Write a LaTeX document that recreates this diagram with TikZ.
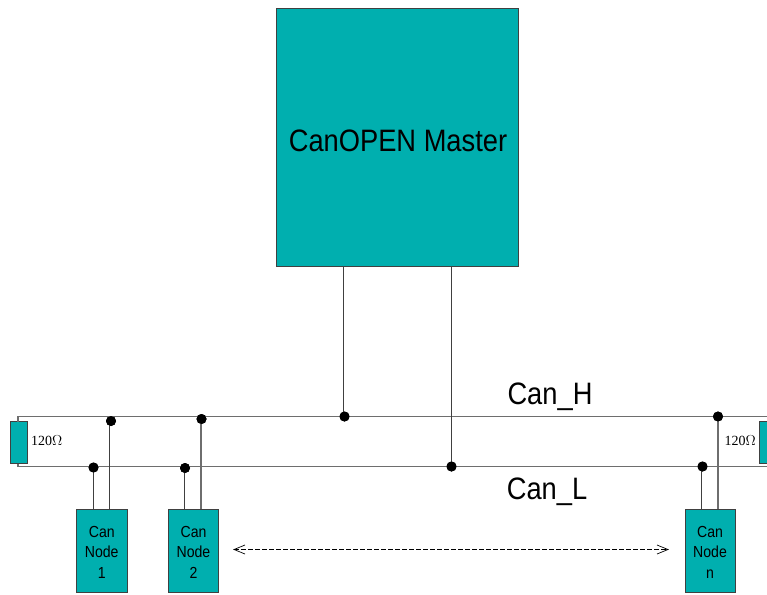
\documentclass[tikz,border=0pt]{standalone}
\usepackage{fontspec}
\setmainfont[FakeStretch=0.88]{Liberation Sans}
\newfontfamily\serifface{Liberation Serif}
\definecolor{tealbox}{RGB}{0,175,175}
\definecolor{wiregray}{RGB}{110,110,110}
\tikzset{
  x=1pt,y=-1pt,
  boxstyle/.style={draw=black!75,line width=0.9pt,fill=tealbox,inner sep=0pt,outer sep=0pt,anchor=north west,align=center},
  wire/.style={draw=wiregray,line width=1.1pt},
  stub/.style={draw=black!75,line width=1pt},
  junction/.style={circle,fill=black,inner sep=0pt,minimum size=10pt,outer sep=0pt},
  nodetext/.style={font=\fontsize{16}{20.5}\selectfont},
  buslabel/.style={font=\fontsize{31}{32}\selectfont,inner sep=0pt},
  ohm/.style={font=\serifface\fontsize{14}{14}\selectfont,inner sep=0pt}
}
\begin{document}
\begin{tikzpicture}
\useasboundingbox (0,0) rectangle (767,594);
% boxes
\node[boxstyle,minimum width=241.5pt,minimum height=258pt] (master) at (276.7,8.8) {};
\node[font=\fontsize{31}{32}\selectfont,inner sep=0pt] (mastertext) at (398,140.5) {CanOPEN Master};
\node[boxstyle,nodetext,minimum width=50.5pt,minimum height=83pt] (n1) at (76.5,509) {\rule{0pt}{14pt}Can\\Node\\1};
\node[boxstyle,nodetext,minimum width=50pt,minimum height=83pt] (n2) at (168.5,509) {\rule{0pt}{14pt}Can\\Node\\2};
\node[boxstyle,nodetext,minimum width=50pt,minimum height=83pt] (nn) at (685,509) {\rule{0pt}{14pt}Can\\Node\\n};
\node[boxstyle,minimum width=17pt,minimum height=42pt] (rl) at (10,421.5) {};
\node[boxstyle,minimum width=17pt,minimum height=42pt] (rr) at (759,421.5) {};
% bus coordinates
\coordinate (hl) at (18,416.5);
\coordinate (hr) at (767,416.5);
\coordinate (ll) at (18,466.5);
\coordinate (lr) at (767,466.5);
\coordinate (rlt) at (18,421.5);
\coordinate (rlb) at (18,463.5);
% junctions
\node[junction] (jm1) at (344.5,416.5) {};
\node[junction] (jm2) at (451.5,466.5) {};
\node[junction] (j1h) at (111,421) {};
\node[junction] (j1l) at (93.5,467.5) {};
\node[junction] (j2h) at (201.5,419) {};
\node[junction] (j2l) at (185,468) {};
\node[junction] (jnh) at (718,416.5) {};
\node[junction] (jnl) at (702.5,466.5) {};
% bus
\draw[wire] (rlt) -- (hl) -- (hr);
\draw[wire] (rlb) -- (ll) -- (lr);
% master feeds
\draw[stub] (343,267) -- (343,416.5);
\draw[stub] (451,267) -- (451,466.5);
% node stubs
\draw[stub] (93,509) -- (93,467.5);
\draw[stub] (109.5,509) -- (109.5,421);
\draw[stub] (184.5,509) -- (184.5,468);
\draw[wire] (201,509) -- (201,419);
\draw[stub] (701.5,509) -- (701.5,466.5);
\draw[wire] (718,509) -- (718,416.5);
% redraw junctions on top
\foreach \p in {jm1,jm2,j1h,j1l,j2h,j2l,jnh,jnl} \fill (\p) circle (5pt);
% range arrow
\coordinate (al) at (234,549.5);
\coordinate (ar) at (668,549.5);
\draw[black,line width=0.7pt,dash pattern=on 5pt off 2pt] (al) -- (ar);
\draw[black,line width=0.7pt] (245,545) -- (al) -- (245,554);
\draw[black,line width=0.7pt] (657,545) -- (ar) -- (657,554);
% labels
\node[buslabel,anchor=center] (lh) at (550,397) {Can\_H};
\node[buslabel,anchor=center] (ll2) at (547,492) {Can\_L};
\node[ohm,anchor=west] (o1) at (31,440.5) {120$\Omega$};
\node[ohm,anchor=east] (o2) at (756,440.5) {120$\Omega$};
\end{tikzpicture}
\end{document}
